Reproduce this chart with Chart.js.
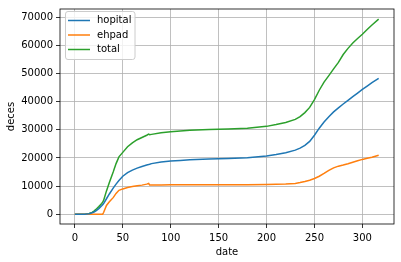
<!DOCTYPE html>
<html>
<head>
<meta charset="utf-8">
<script src="https://cdn.jsdelivr.net/npm/chart.js@4.4.1/dist/chart.umd.min.js"></script>
<style>
	html, body { margin: 0; padding: 0; background: #fff; }
	#boite { width: 401px; height: 262px; }
</style>
</head>
<body>
<div id="boite"><canvas id="graficoDeces"></canvas></div>
<script>
// Jours depuis le début et décès cumulés
var jours = [0, 10, 15, 18, 20, 22, 25, 28, 29, 30, 33, 36, 40, 43, 46, 50, 55, 60, 65, 70, 75, 77, 78, 80, 90, 100, 110, 120, 140, 160, 180, 200, 210, 220, 230, 235, 240, 245, 250, 255, 260, 265, 270, 275, 280, 285, 290, 295, 300, 305, 310, 317];
var hopital = [0, 30, 200, 500, 800, 1200, 2000, 3000, 3400, 3800, 5500, 7200, 9300, 10700, 12000, 13500, 14800, 15700, 16400, 17000, 17500, 17650, 17750, 18000, 18550, 18900, 19150, 19350, 19600, 19800, 20050, 20700, 21250, 21900, 22800, 23500, 24500, 25900, 28100, 30600, 32800, 34700, 36400, 37800, 39200, 40500, 41800, 43100, 44400, 45600, 46800, 48300];
var ehpad = [0, 0, 0, 0, 0, 0, 0, 0, 0, 600, 3100, 4400, 5900, 7400, 8500, 9000, 9500, 9850, 10100, 10350, 10700, 10950, 10400, 10400, 10400, 10450, 10450, 10500, 10500, 10500, 10500, 10550, 10650, 10750, 10950, 11250, 11650, 12100, 12700, 13500, 14500, 15600, 16500, 17100, 17500, 17950, 18500, 19000, 19500, 19900, 20300, 21000];
var total = [0, 30, 250, 650, 1100, 1700, 2700, 3800, 4300, 4900, 8300, 11300, 15000, 18000, 20400, 22000, 24000, 25400, 26500, 27300, 28100, 28500, 28300, 28400, 28950, 29350, 29600, 29850, 30100, 30300, 30550, 31250, 31900, 32650, 33750, 34750, 36150, 38000, 40800, 44100, 47000, 49300, 51700, 54000, 56800, 59000, 60900, 62500, 64000, 65700, 67300, 69400];
var ticksX = [0, 50, 100, 150, 200, 250, 300];
var ticksY = [0, 10000, 20000, 30000, 40000, 50000, 60000, 70000];

var police = "'DejaVu Sans', sans-serif";

function points(valeurs) {
	return jours.map(function (j, i) {
		return { x: j, y: valeurs[i] };
	});
}

function serie(nom, valeurs, couleur) {
	return {
		label: nom,
		data: points(valeurs),
		borderColor: couleur,
		backgroundColor: couleur,
		borderWidth: 1.5,
		pointRadius: 0,
		tension: 0,
		fill: false,
	};
}

// Cadre complet et légende dans le coin haut gauche (comme matplotlib)
var cadreEtLegende = {
	id: "cadreEtLegende",
	afterDraw: function (chart) {
		var ctx = chart.ctx;
		var a = chart.chartArea;
		ctx.save();
		ctx.strokeStyle = "#000";
		ctx.lineWidth = 0.8;
		ctx.strokeRect(a.left, a.top, a.right - a.left, a.bottom - a.top);

		var x0 = 65.5, y0 = 11.5, w = 69.5, h = 48, r = 2.5;
		ctx.beginPath();
		ctx.moveTo(x0 + r, y0);
		ctx.arcTo(x0 + w, y0, x0 + w, y0 + h, r);
		ctx.arcTo(x0 + w, y0 + h, x0, y0 + h, r);
		ctx.arcTo(x0, y0 + h, x0, y0, r);
		ctx.arcTo(x0, y0, x0 + w, y0, r);
		ctx.closePath();
		ctx.fillStyle = "rgba(255,255,255,0.8)";
		ctx.fill();
		ctx.strokeStyle = "#cccccc";
		ctx.lineWidth = 1;
		ctx.stroke();

		ctx.font = "10px " + police;
		ctx.textBaseline = "middle";
		ctx.textAlign = "left";
		chart.data.datasets.forEach(function (ds, i) {
			var y = 20.5 + i * 14.5;
			ctx.strokeStyle = ds.borderColor;
			ctx.lineWidth = 1.5;
			ctx.beginPath();
			ctx.moveTo(68, y);
			ctx.lineTo(90, y);
			ctx.stroke();
			ctx.fillStyle = "#000";
			ctx.fillText(ds.label, 97, y);
		});
		ctx.restore();
	},
};

var grille = { color: "#b0b0b0", lineWidth: 0.8, tickColor: "#000", tickLength: 4, drawTicks: true };

var config = {
	type: "line",
	data: {
		datasets: [
			serie("hopital", hopital, "#1f77b4"),
			serie("ehpad", ehpad, "#ff7f0e"),
			serie("total", total, "#2ca02c"),
		],
	},
	options: {
		responsive: true,
		maintainAspectRatio: false,
		animation: false,
		devicePixelRatio: 1,
		layout: { padding: { top: 6, right: 7, left: 0, bottom: 0 } },
		plugins: {
			legend: { display: false },
			tooltip: { enabled: false },
		},
		scales: {
			x: {
				type: "linear",
				min: -15.5,
				max: 333,
				grid: grille,
				border: { display: false },
				afterBuildTicks: function (scale) {
					scale.ticks = ticksX.map(function (v) { return { value: v }; });
				},
				afterFit: function (scale) { scale.height = 38; },
				ticks: { color: "#000", padding: 4, maxRotation: 0, font: { family: police, size: 10 } },
				title: { display: true, text: "date", color: "#000", padding: { top: 0, bottom: 4 }, font: { family: police, size: 10 } },
			},
			y: {
				type: "linear",
				min: -3480,
				max: 73000,
				grid: grille,
				border: { display: false },
				afterBuildTicks: function (scale) {
					scale.ticks = ticksY.map(function (v) { return { value: v }; });
				},
				afterFit: function (scale) { scale.width = 60; },
				ticks: {
					color: "#000",
					padding: 3,
					font: { family: police, size: 10 },
					callback: function (v) { return String(v); },
				},
				title: { display: true, text: "deces", color: "#000", padding: 5, font: { family: police, size: 10 } },
			},
		},
	},
	plugins: [cadreEtLegende],
};

var graficoDeces = new Chart(document.getElementById("graficoDeces"), config);
</script>
</body>
</html>
